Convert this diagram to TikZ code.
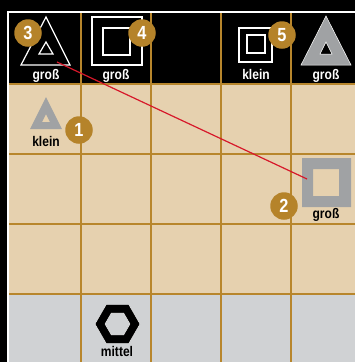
\documentclass[tikz,border=0pt]{standalone}
\usepackage{fontspec}
\setmainfont{Liberation Sans}
\setsansfont{Liberation Sans}
\newfontfamily\schmal[FakeStretch=0.86]{Liberation Sans}
\definecolor{brett}{HTML}{E6D1AF}
\definecolor{reihe}{HTML}{D0D2D4}
\definecolor{linie}{HTML}{B8862C}
\definecolor{plakette}{HTML}{B5832A}
\definecolor{stein}{HTML}{A0A2A4}
\definecolor{faden}{HTML}{D7182A}
\usetikzlibrary{positioning}

\begin{document}
\begin{tikzpicture}[x=1pt,y=-1pt,
  raster/.style={draw=linie,line width=2pt},
  hell/.style={draw=white,line width=1.2pt},
  grau/.style={fill=stein,even odd rule},
  marke/.style={circle,fill=plakette,text=white,minimum size=27.5pt,inner sep=0pt,font=\schmal\bfseries\fontsize{19}{19}\selectfont},
  etikett/.style={anchor=base,inner sep=0pt,font=\schmal\bfseries\fontsize{14}{14}\selectfont},
  verbindung/.style={draw=faden,line width=1.2pt}]
\useasboundingbox (0,0) rectangle (355,362);
% Brett
\fill[black] (0,0) rectangle (355,362);
\draw[white,line width=2pt] (8,366) -- (8,12) -- (360,12);
\fill[brett] (9,84) rectangle (362,294);
\fill[reihe] (9,294) rectangle (362,366);
\foreach \x in {81,151,221,291} \draw[raster] (\x,13) -- (\x,366);
\foreach \y in {84,154,224,294} \draw[raster] (9,\y) -- (362,\y);
% Kopfzeile
\draw[hell] (46,17) -- (70,65) -- (21,65) -- cycle (46,42) -- (53,54) -- (39,54) -- cycle;
\draw[hell] (92,17) rectangle (142,65) (103,28) rectangle (130,55);
\draw[hell] (239,28) rectangle (272,62) (247,35) rectangle (265,53);
\path[grau,draw=white,line width=0.5pt] (326,16) -- (351,65) -- (301,65) -- cycle (326,42) -- (332,54) -- (320,54) -- cycle;
% Feld
\fill[grau] (46,97) -- (62,129) -- (30,129) -- cycle (46,114) -- (50,122) -- (42,122) -- cycle;
\fill[grau] (302,158) rectangle (351,207) (313,169) rectangle (339,196);
\path[fill=black,draw=white,line width=0.4pt,even odd rule]
  (140,324) -- ++(120:22.5) -- ++(180:22.5) -- ++(240:22.5) -- ++(300:22.5) -- ++(0:22.5) -- cycle
  (130,324) -- ++(120:12.5) -- ++(180:12.5) -- ++(240:12.5) -- ++(300:12.5) -- ++(0:12.5) -- cycle;
% Zug
\coordinate (start) at (57,62);
\coordinate (ziel) at (307,179);
\draw[verbindung] (start) -- (ziel);
% Beschriftung
\node[etikett,text=white] (k1) at (46,79) {groß};
\node[etikett,text=white] (k2) at (116,79) {groß};
\node[etikett,text=white] (k4) at (256,79) {klein};
\node[etikett,text=white] (k5) at (326,79) {groß};
\node[etikett] (f1) at (46,146) {klein};
\node[etikett] (f2) at (326,218) {groß};
\node[etikett] (f3) at (117,356) {mittel};
% Nummern
\node[marke] (m3) at (28,33) {3};
\node[marke] (m4) at (142,33) {4};
\node[marke] (m5) at (282,35) {5};
\node[marke] (m1) at (79,130) {1};
\node[marke] (m2) at (284,206) {2};
\end{tikzpicture}
\end{document}
